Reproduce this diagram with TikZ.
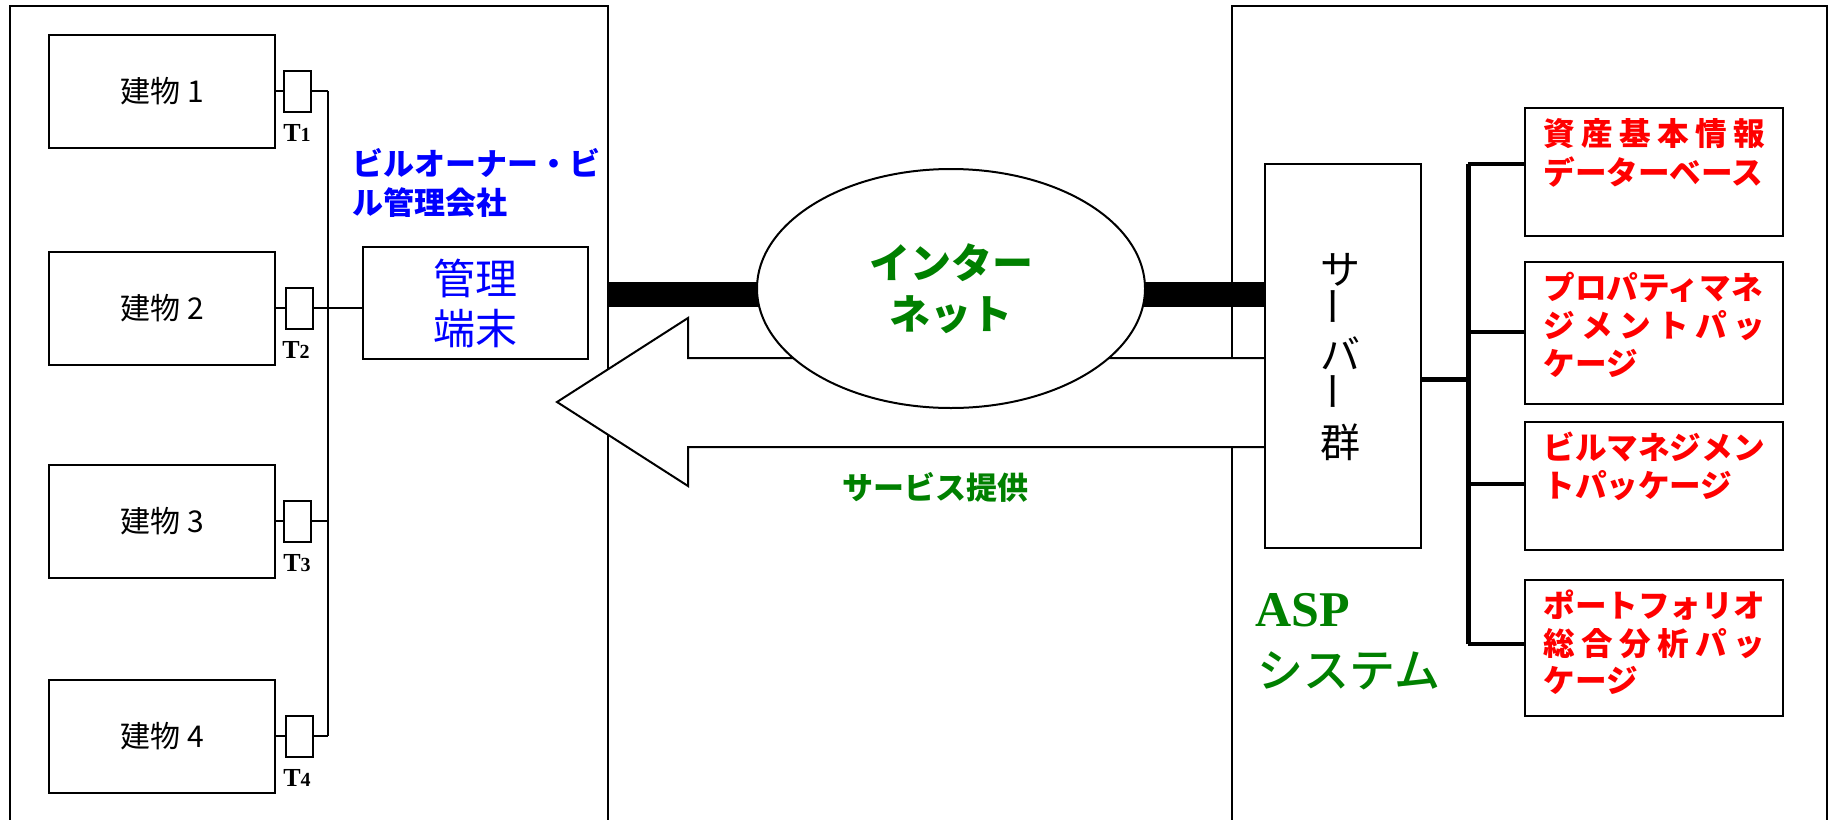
\documentclass[tikz,border=0pt]{standalone}
\usepackage{fontspec}
\setmainfont{Noto Sans CJK JP}
\newfontfamily\jpmed{Noto Sans CJK JP Medium}
\newfontfamily\tser{Liberation Serif}
\usetikzlibrary{shapes.geometric}
\definecolor{dgreen}{RGB}{0,128,0}
\newcommand\pkgline[1]{\hbox to 111pt{#1}}
\begin{document}
\begin{tikzpicture}[x=0.5pt,y=-0.5pt,
  thinln/.style={line width=1pt},
  bldg/.style={draw,line width=1pt,minimum width=113pt,minimum height=56.5pt,inner sep=0pt,font=\fontsize{15}{18}\selectfont},
  term/.style={draw,line width=1pt,minimum width=13.5pt,minimum height=20.5pt,inner sep=0pt},
  tlabel/.style={inner sep=0pt,font=\tser\bfseries\fontsize{13}{13}\selectfont},
  srvch/.style={inner sep=0pt,font=\fontsize{20}{24}\selectfont},
  pkg/.style={draw,line width=1.3pt,minimum width=129pt,inner sep=0pt},
  pkgtext/.style={anchor=base west,inner sep=0pt,text=red,font=\bfseries\fontsize{15.8}{19}\selectfont},
]
\useasboundingbox (0,0) rectangle (1835,819);
% frames
\draw[thinln] (10,830) -- (10,6) -- (608,6) -- (608,830);
\draw[thinln] (1232,830) -- (1232,6) -- (1827,6) -- (1827,830);
% buildings
\node[bldg] (b1) at (162,91) {建物 1};
\node[bldg] (b2) at (162,308) {建物 2};
\node[bldg] (b3) at (162,521) {建物 3};
\node[bldg] (b4) at (162,736) {建物 4};
% terminals
\node[term] (t1) at (297,91) {};
\node[term] (t2) at (299,308) {};
\node[term] (t3) at (297,521) {};
\node[term] (t4) at (299,736) {};
\node[tlabel] (l1) at (297,133) {T{\fontsize{10}{10}\selectfont 1}};
\node[tlabel] (l2) at (296,350) {T{\fontsize{10}{10}\selectfont 2}};
\node[tlabel] (l3) at (297,563) {T{\fontsize{10}{10}\selectfont 3}};
\node[tlabel] (l4) at (297,778) {T{\fontsize{10}{10}\selectfont 4}};
\coordinate (bus1) at (328,91);
\coordinate (bus2) at (328,308);
\coordinate (bus3) at (328,521);
\coordinate (bus4) at (328,736);
\draw[thinln] (b1.east) -- (t1.west) (t1.east) -- (bus1);
\draw[thinln] (b2.east) -- (t2.west);
\draw[thinln] (b3.east) -- (t3.west) (t3.east) -- (bus3);
\draw[thinln] (b4.east) -- (t4.west) (t4.east) -- (bus4);
\draw[thinln] (bus1) -- (bus4);
% management terminal
\node[draw,thinln,minimum width=112.5pt,minimum height=56pt,inner sep=0pt,align=center,text=blue,font=\fontsize{21}{25}\selectfont] (m) at (475.5,303) {管理\\端末};
\draw[thinln] (t2.east) -- (t2.east -| m.west);
\node[anchor=west,align=left,inner sep=0pt,text=blue,font=\bfseries\fontsize{15.5}{19.5}\selectfont] (owner) at (352,182.5) {ビルオーナー・ビ\\ル管理会社};
% thick bars
\coordinate (barL) at (608,294.5);
\coordinate (barR) at (1265,294.5);
\draw[line width=12.5pt] (barL) -- (800,294.5);
\draw[line width=12.5pt] (1100,294.5) -- (barR);
% service arrow
\fill[white] (1265,358) -- (688,358) -- (688,318) -- (557,402) -- (688,486) -- (688,447) -- (1265,447) -- cycle;
\draw[thinln] (1265,358) -- (688,358) -- (688,318) -- (557,402) -- (688,486) -- (688,447) -- (1265,447);
\node[text=dgreen,inner sep=0pt,font=\bfseries\fontsize{15.5}{18}\selectfont] (svc) at (935,487) {サービス提供};
% internet
\node[ellipse,draw,fill=white,thinln,minimum width=194pt,minimum height=119.5pt,align=center,text=dgreen,font=\bfseries\fontsize{20.5}{25.5}\selectfont] (net) at (951,288.5) {インター\\ネット};
% server
\node[draw,fill=white,line width=1.25pt,minimum width=78pt,minimum height=192pt,inner sep=0pt] (srv) at (1343,356) {};
\node[srvch] (s1) at (1340,270) {サ};
\node[srvch,rotate=90] (s2) at (1340,306) {ー};
\node[srvch] (s3) at (1340,353) {バ};
\node[srvch,rotate=90] (s4) at (1340,391) {ー};
\node[srvch] (s5) at (1340,442) {群};
% packages
\node[pkg,minimum height=64pt] (r1) at (1654,172) {};
\node[pkg,minimum height=71pt] (r2) at (1654,333) {};
\node[pkg,minimum height=64pt] (r3) at (1654,486) {};
\node[pkg,minimum height=68pt] (r4) at (1654,648) {};
\coordinate (sj) at (1468,379);
\coordinate (rj1) at (1468,164);
\coordinate (rj2) at (1468,332);
\coordinate (rj3) at (1468,484);
\coordinate (rj4) at (1468,644);
\draw[line width=2.5pt] (rj1) -- (rj4);
\draw[line width=2.5pt] (srv.east |- sj) -- (sj);
\draw[line width=2pt] (rj1) -- (rj1 -| r1.west);
\draw[line width=2pt] (rj2) -- (rj2 -| r2.west);
\draw[line width=2pt] (rj3) -- (rj3 -| r3.west);
\draw[line width=2pt] (rj4) -- (rj4 -| r4.west);
\node[pkgtext] (p11) at (1543,145) {\pkgline{資\hfill 産\hfill 基\hfill 本\hfill 情\hfill 報}};
\node[pkgtext] (p12) at (1543,184) {データーベース};
\node[pkgtext] (p21) at (1543,299) {プロパティマネ};
\node[pkgtext] (p22) at (1543,337) {\pkgline{ジ\hfill メ\hfill ン\hfill ト\hfill パ\hfill ッ}};
\node[pkgtext] (p23) at (1543,375) {ケージ};
\node[pkgtext] (p31) at (1543,459) {ビルマネジメン};
\node[pkgtext] (p32) at (1543,497) {トパッケージ};
\node[pkgtext] (p41) at (1543,617) {ポートフォリオ};
\node[pkgtext] (p42) at (1543,655) {\pkgline{総\hfill 合\hfill 分\hfill 析\hfill パ\hfill ッ}};
\node[pkgtext] (p43) at (1543,692) {ケージ};
% ASP label
\node[anchor=base west,inner sep=0pt,text=dgreen,font=\tser\bfseries\fontsize{25}{30}\selectfont] (asp) at (1255,626) {ASP};
\node[anchor=base west,inner sep=0pt,text=dgreen,font=\jpmed\fontsize{23}{28}\selectfont] (sys) at (1257,687) {システム};
\end{tikzpicture}
\end{document}
